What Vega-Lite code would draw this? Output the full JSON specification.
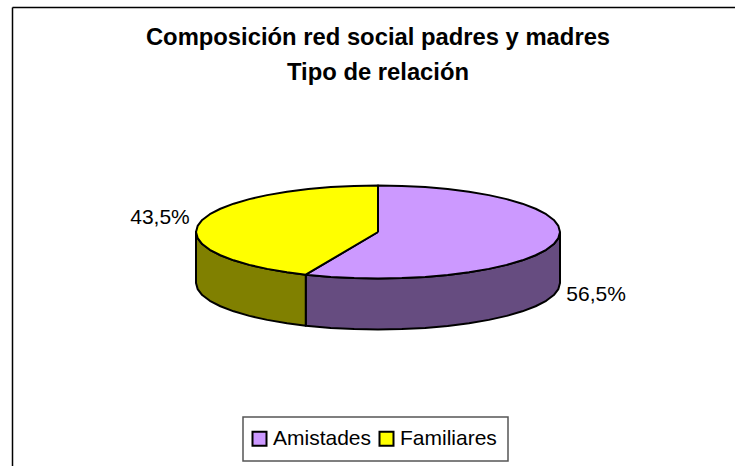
{"$schema":"https://vega.github.io/schema/vega-lite/v6.json","width":723,"height":459,"autosize":"none","padding":{"left":12,"top":7,"right":0,"bottom":0},"background":"white","config":{"view":{"stroke":null},"font":"Liberation Sans","legend":{"strokeWidth":1.5}},
"title":{"text":["Composición red social padres y madres","Tipo de relación"],"font":"Liberation Sans","fontSize":23.8,"fontWeight":"bold","color":"black","anchor":"middle","frame":"group","dx":4.5,"offset":-97,"lineHeight":35,"baseline":"alphabetic"},
"datasets":{"contorno":[
{"s":"Amistades lateral","p":"side","o":90,"x":1,"y":0},{"s":"Amistades lateral","p":"side","o":97.5,"x":0.991,"y":-0.131},{"s":"Amistades lateral","p":"side","o":105,"x":0.966,"y":-0.259},{"s":"Amistades lateral","p":"side","o":112.5,"x":0.924,"y":-0.383},{"s":"Amistades lateral","p":"side","o":120,"x":0.866,"y":-0.5},{"s":"Amistades lateral","p":"side","o":127.5,"x":0.793,"y":-0.609},{"s":"Amistades lateral","p":"side","o":135,"x":0.707,"y":-0.707},{"s":"Amistades lateral","p":"side","o":142.5,"x":0.609,"y":-0.793},{"s":"Amistades lateral","p":"side","o":150,"x":0.5,"y":-0.866},{"s":"Amistades lateral","p":"side","o":157.5,"x":0.383,"y":-0.924},{"s":"Amistades lateral","p":"side","o":165,"x":0.259,"y":-0.966},{"s":"Amistades lateral","p":"side","o":172.5,"x":0.131,"y":-0.991},{"s":"Amistades lateral","p":"side","o":180,"x":0,"y":-1},{"s":"Amistades lateral","p":"side","o":187.5,"x":-0.131,"y":-0.991},{"s":"Amistades lateral","p":"side","o":195,"x":-0.259,"y":-0.966},{"s":"Amistades lateral","p":"side","o":203.4,"x":-0.397,"y":-0.918},
{"s":"Amistades lateral","p":"side","o":796.6,"x":-0.397,"y":-2.015},{"s":"Amistades lateral","p":"side","o":805,"x":-0.259,"y":-2.063},{"s":"Amistades lateral","p":"side","o":812.5,"x":-0.131,"y":-2.088},{"s":"Amistades lateral","p":"side","o":820,"x":0,"y":-2.097},{"s":"Amistades lateral","p":"side","o":827.5,"x":0.131,"y":-2.088},{"s":"Amistades lateral","p":"side","o":835,"x":0.259,"y":-2.063},{"s":"Amistades lateral","p":"side","o":842.5,"x":0.383,"y":-2.021},{"s":"Amistades lateral","p":"side","o":850,"x":0.5,"y":-1.963},{"s":"Amistades lateral","p":"side","o":857.5,"x":0.609,"y":-1.89},{"s":"Amistades lateral","p":"side","o":865,"x":0.707,"y":-1.804},{"s":"Amistades lateral","p":"side","o":872.5,"x":0.793,"y":-1.706},{"s":"Amistades lateral","p":"side","o":880,"x":0.866,"y":-1.597},{"s":"Amistades lateral","p":"side","o":887.5,"x":0.924,"y":-1.48},{"s":"Amistades lateral","p":"side","o":895,"x":0.966,"y":-1.356},{"s":"Amistades lateral","p":"side","o":902.5,"x":0.991,"y":-1.228},{"s":"Amistades lateral","p":"side","o":910,"x":1,"y":-1.097},{"s":"Amistades lateral","p":"side","o":911,"x":1,"y":0},
{"s":"Familiares lateral","p":"side","o":203.4,"x":-0.397,"y":-0.918},{"s":"Familiares lateral","p":"side","o":210,"x":-0.5,"y":-0.866},{"s":"Familiares lateral","p":"side","o":217.5,"x":-0.609,"y":-0.793},{"s":"Familiares lateral","p":"side","o":225,"x":-0.707,"y":-0.707},{"s":"Familiares lateral","p":"side","o":232.5,"x":-0.793,"y":-0.609},{"s":"Familiares lateral","p":"side","o":240,"x":-0.866,"y":-0.5},{"s":"Familiares lateral","p":"side","o":247.5,"x":-0.924,"y":-0.383},{"s":"Familiares lateral","p":"side","o":255,"x":-0.966,"y":-0.259},{"s":"Familiares lateral","p":"side","o":262.5,"x":-0.991,"y":-0.131},{"s":"Familiares lateral","p":"side","o":270,"x":-1,"y":0},
{"s":"Familiares lateral","p":"side","o":730,"x":-1,"y":-1.097},{"s":"Familiares lateral","p":"side","o":737.5,"x":-0.991,"y":-1.228},{"s":"Familiares lateral","p":"side","o":745,"x":-0.966,"y":-1.356},{"s":"Familiares lateral","p":"side","o":752.5,"x":-0.924,"y":-1.48},{"s":"Familiares lateral","p":"side","o":760,"x":-0.866,"y":-1.597},{"s":"Familiares lateral","p":"side","o":767.5,"x":-0.793,"y":-1.706},{"s":"Familiares lateral","p":"side","o":775,"x":-0.707,"y":-1.804},{"s":"Familiares lateral","p":"side","o":782.5,"x":-0.609,"y":-1.89},{"s":"Familiares lateral","p":"side","o":790,"x":-0.5,"y":-1.963},{"s":"Familiares lateral","p":"side","o":796.6,"x":-0.397,"y":-2.015},{"s":"Familiares lateral","p":"side","o":800,"x":-0.397,"y":-0.918},
{"s":"Amistades","p":"top","o":-1,"x":0,"y":0},{"s":"Amistades","p":"top","o":0,"x":0,"y":1},{"s":"Amistades","p":"top","o":7.5,"x":0.131,"y":0.991},{"s":"Amistades","p":"top","o":15,"x":0.259,"y":0.966},{"s":"Amistades","p":"top","o":22.5,"x":0.383,"y":0.924},{"s":"Amistades","p":"top","o":30,"x":0.5,"y":0.866},{"s":"Amistades","p":"top","o":37.5,"x":0.609,"y":0.793},{"s":"Amistades","p":"top","o":45,"x":0.707,"y":0.707},{"s":"Amistades","p":"top","o":52.5,"x":0.793,"y":0.609},{"s":"Amistades","p":"top","o":60,"x":0.866,"y":0.5},{"s":"Amistades","p":"top","o":67.5,"x":0.924,"y":0.383},{"s":"Amistades","p":"top","o":75,"x":0.966,"y":0.259},{"s":"Amistades","p":"top","o":82.5,"x":0.991,"y":0.131},{"s":"Amistades","p":"top","o":90,"x":1,"y":0},{"s":"Amistades","p":"top","o":97.5,"x":0.991,"y":-0.131},{"s":"Amistades","p":"top","o":105,"x":0.966,"y":-0.259},{"s":"Amistades","p":"top","o":112.5,"x":0.924,"y":-0.383},{"s":"Amistades","p":"top","o":120,"x":0.866,"y":-0.5},{"s":"Amistades","p":"top","o":127.5,"x":0.793,"y":-0.609},{"s":"Amistades","p":"top","o":135,"x":0.707,"y":-0.707},{"s":"Amistades","p":"top","o":142.5,"x":0.609,"y":-0.793},{"s":"Amistades","p":"top","o":150,"x":0.5,"y":-0.866},{"s":"Amistades","p":"top","o":157.5,"x":0.383,"y":-0.924},{"s":"Amistades","p":"top","o":165,"x":0.259,"y":-0.966},{"s":"Amistades","p":"top","o":172.5,"x":0.131,"y":-0.991},{"s":"Amistades","p":"top","o":180,"x":0,"y":-1},{"s":"Amistades","p":"top","o":187.5,"x":-0.131,"y":-0.991},{"s":"Amistades","p":"top","o":195,"x":-0.259,"y":-0.966},{"s":"Amistades","p":"top","o":203.4,"x":-0.397,"y":-0.918},{"s":"Amistades","p":"top","o":999,"x":0,"y":0},
{"s":"Familiares","p":"top","o":-1,"x":0,"y":0},{"s":"Familiares","p":"top","o":203.4,"x":-0.397,"y":-0.918},{"s":"Familiares","p":"top","o":210,"x":-0.5,"y":-0.866},{"s":"Familiares","p":"top","o":217.5,"x":-0.609,"y":-0.793},{"s":"Familiares","p":"top","o":225,"x":-0.707,"y":-0.707},{"s":"Familiares","p":"top","o":232.5,"x":-0.793,"y":-0.609},{"s":"Familiares","p":"top","o":240,"x":-0.866,"y":-0.5},{"s":"Familiares","p":"top","o":247.5,"x":-0.924,"y":-0.383},{"s":"Familiares","p":"top","o":255,"x":-0.966,"y":-0.259},{"s":"Familiares","p":"top","o":262.5,"x":-0.991,"y":-0.131},{"s":"Familiares","p":"top","o":270,"x":-1,"y":0},{"s":"Familiares","p":"top","o":277.5,"x":-0.991,"y":0.131},{"s":"Familiares","p":"top","o":285,"x":-0.966,"y":0.259},{"s":"Familiares","p":"top","o":292.5,"x":-0.924,"y":0.383},{"s":"Familiares","p":"top","o":300,"x":-0.866,"y":0.5},{"s":"Familiares","p":"top","o":307.5,"x":-0.793,"y":0.609},{"s":"Familiares","p":"top","o":315,"x":-0.707,"y":0.707},{"s":"Familiares","p":"top","o":322.5,"x":-0.609,"y":0.793},{"s":"Familiares","p":"top","o":330,"x":-0.5,"y":0.866},{"s":"Familiares","p":"top","o":337.5,"x":-0.383,"y":0.924},{"s":"Familiares","p":"top","o":345,"x":-0.259,"y":0.966},{"s":"Familiares","p":"top","o":352.5,"x":-0.131,"y":0.991},{"s":"Familiares","p":"top","o":360,"x":0,"y":1},{"s":"Familiares","p":"top","o":999,"x":0,"y":0}
],"etiquetas":[{"tipo":"Amistades","valor":56.5,"etiqueta":"56,5%","x":1.198,"y":-1.355},{"tipo":"Familiares","valor":43.5,"etiqueta":"43,5%","x":-1.198,"y":0.301}]},
"data":{"name":"contorno"},
"encoding":{
"x":{"field":"x","type":"quantitative","scale":{"domain":[-2.011,1.9615],"nice":false,"zero":false},"axis":{"orient":"top","title":null,"labels":false,"ticks":false,"grid":false,"domain":true,"domainColor":"black","domainWidth":1.5}},
"y":{"field":"y","type":"quantitative","scale":{"domain":[-5.0323,4.8387],"nice":false,"zero":false},"axis":{"orient":"left","title":null,"labels":false,"ticks":false,"grid":false,"domain":true,"domainColor":"black","domainWidth":1.5}}
},
"layer":[
{"transform":[{"filter":"datum.p === 'side'"}],"mark":{"type":"line","stroke":"black","strokeWidth":2,"strokeJoin":"round"},"encoding":{"order":{"field":"o"},"fill":{"field":"s","type":"nominal","scale":{"domain":["Amistades","Familiares","Amistades lateral","Familiares lateral"],"range":["#CC99FF","#FFFF00","#664C80","#808000"]},"legend":{"values":["Amistades","Familiares"],"title":null,"orient":"none","legendX":231,"legendY":410,"direction":"horizontal","columns":2,"symbolType":"square","symbolSize":196,"symbolStrokeColor":"black","symbolStrokeWidth":2,"symbolOpacity":1,"symbolOffset":-5,"labelFont":"Liberation Sans","labelFontSize":21,"labelColor":"black","labelLimit":200,"strokeColor":"#555555","padding":11,"columnPadding":3,"labelOffset":3}}}},
{"transform":[{"filter":"datum.p === 'top'"}],"mark":{"type":"line","stroke":"black","strokeWidth":2,"strokeJoin":"round"},"encoding":{"order":{"field":"o"},"fill":{"field":"s","type":"nominal","scale":{"domain":["Amistades","Familiares","Amistades lateral","Familiares lateral"],"range":["#CC99FF","#FFFF00","#664C80","#808000"]},"legend":{"values":["Amistades","Familiares"],"title":null,"orient":"none","legendX":231,"legendY":410,"direction":"horizontal","columns":2,"symbolType":"square","symbolSize":196,"symbolStrokeColor":"black","symbolStrokeWidth":2,"symbolOpacity":1,"symbolOffset":-5,"labelFont":"Liberation Sans","labelFontSize":21,"labelColor":"black","labelLimit":200,"strokeColor":"#555555","padding":11,"columnPadding":3,"labelOffset":3}}}},
{"data":{"name":"etiquetas"},"mark":{"type":"text","font":"Liberation Sans","fontSize":21,"color":"black","align":"center","baseline":"middle"},"encoding":{"text":{"field":"etiqueta"}}}
]}
